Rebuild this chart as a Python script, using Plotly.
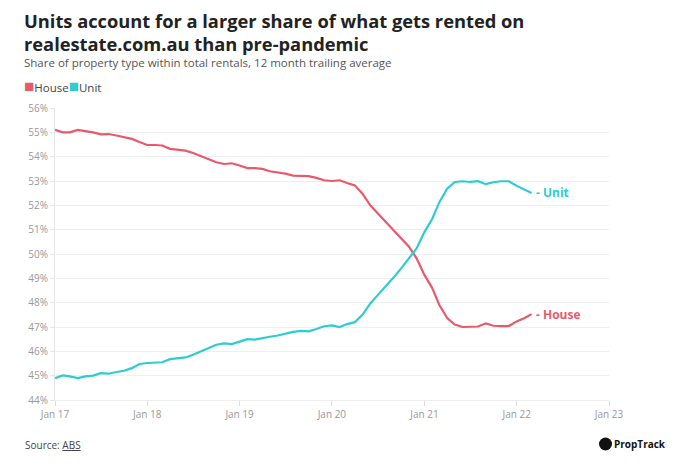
import plotly.graph_objects as go
import pandas as pd

months = pd.date_range("2017-01-01", periods=63, freq="MS")

house = [55.1, 55.0, 55.0, 55.1, 55.05, 55.0, 54.92, 54.93, 54.87, 54.8, 54.73, 54.6,
         54.48, 54.48, 54.46, 54.32, 54.3, 54.25, 54.15, 54.02, 53.9, 53.77, 53.7, 53.73,
         53.64, 53.53, 53.53, 53.5, 53.4, 53.36, 53.3, 53.22,
         53.2, 53.2, 53.13, 53.03,
         53.0, 53.03, 52.92, 52.82, 52.48, 52.0, 51.66, 51.32, 50.98, 50.64, 50.3, 49.82,
         49.14, 48.6, 47.9, 47.37, 47.1, 47.0, 47.02, 47.02, 47.15, 47.05, 47.04, 47.04,
         47.23, 47.37, 47.53]

unit = [44.9, 45.01, 44.97, 44.9, 44.97, 45.0, 45.1, 45.08, 45.15, 45.2, 45.31, 45.48,
        45.52, 45.52, 45.55, 45.68, 45.7, 45.75, 45.86, 46.0, 46.13, 46.27, 46.33, 46.3,
        46.4, 46.5, 46.48, 46.55, 46.6, 46.65, 46.72, 46.8,
        46.84, 46.82, 46.92, 47.03,
        47.07, 47.0, 47.12, 47.2, 47.5, 47.97, 48.32, 48.66, 49.03, 49.41, 49.82, 50.23,
        50.9, 51.45, 52.13, 52.68, 52.96, 52.99, 52.96, 52.99, 52.87, 52.95, 52.99, 52.99,
        52.8, 52.66, 52.51]

title_lines = ["Units account for a larger share of what gets rented on",
               "realestate.com.au than pre-pandemic"]
subtitle = "Share of property type within total rentals, 12 month trailing average"

colors = {"House": "#E9596C", "Unit": "#2ECCD2"}
FONT = "Open Sans"

# page offset (body margin) and plot geometry in figure px
OFF = 8
L, T, PW, PH = 47, 100, 554, 292
W, H = 671, 460


def px(sx):
    return (sx - OFF - L) / PW


def py(sy):
    return 1 - (sy - OFF - T) / PH


fig = go.Figure()
fig.add_trace(go.Scatter(x=months, y=house, mode="lines", name="House",
                         line=dict(color=colors["House"], width=2.2)))
fig.add_trace(go.Scatter(x=months, y=unit, mode="lines", name="Unit",
                         line=dict(color=colors["Unit"], width=2.2)))

# end labels
fig.add_annotation(x=months[-1], y=unit[-1], text="<b>- Unit</b>", showarrow=False,
                   xanchor="left", xshift=2, font=dict(family=FONT, size=12, color=colors["Unit"]))
fig.add_annotation(x=months[-1], y=house[-1], text="<b>- House</b>", showarrow=False,
                   xanchor="left", xshift=2, font=dict(family=FONT, size=12, color=colors["House"]))

# title lines, subtitle
for line, sy in zip(title_lines, [20, 43]):
    fig.add_annotation(xref="paper", yref="paper", x=px(23), y=py(sy),
                       xanchor="left", yanchor="middle", align="left", showarrow=False,
                       text=f"<b>{line}</b>", borderpad=0,
                       font=dict(family=FONT, size=18.3, color="#222222"))
fig.add_annotation(xref="paper", yref="paper", x=px(23), y=py(62),
                   xanchor="left", yanchor="middle", showarrow=False,
                   text=subtitle, borderpad=0,
                   font=dict(family=FONT, size=11.5, color="#555555"))
# legend
fig.add_annotation(xref="paper", yref="paper", x=px(22), y=py(85),
                   xanchor="left", yanchor="middle", showarrow=False,
                   text=(f"<span style='color:{colors['House']};font-size:17px'>■</span>House"
                         f"<span style='color:{colors['Unit']};font-size:17px'>■</span>Unit"),
                   font=dict(family=FONT, size=11.5, color="#444444"))
# source
fig.add_annotation(xref="paper", yref="paper", x=px(23), y=py(445),
                   xanchor="left", yanchor="middle", showarrow=False,
                   text="Source: <u>ABS</u>",
                   font=dict(family=FONT, size=10, color="#444444"))
# PropTrack logo
fig.add_annotation(xref="paper", yref="paper", x=px(612), y=py(444),
                   xanchor="left", yanchor="middle", showarrow=False,
                   text="<b>PropTrack</b>",
                   font=dict(family=FONT, size=10, color="#111111"))
fig.add_shape(type="circle", xref="paper", yref="paper",
              x0=px(599), x1=px(612), y0=py(450.5), y1=py(437.5),
              fillcolor="#111111", line=dict(width=0))

fig.update_layout(
    width=W, height=H,
    margin=dict(l=L, r=W - L - PW, t=T, b=H - T - PH),
    paper_bgcolor="white", plot_bgcolor="white",
    font=dict(family=FONT, color="#999999"),
    xaxis=dict(range=["2017-01-01", "2023-01-01"], dtick="M12", tick0="2017-01-01",
               tickformat="Jan %y", showgrid=False, ticks="outside", ticklen=5,
               tickcolor="#dddddd", showline=True, linecolor="#eeeeee",
               tickfont=dict(size=10, color="#999999"), zeroline=False),
    yaxis=dict(range=[44, 56], dtick=1, ticksuffix="%", showgrid=True,
               gridcolor="#eeeeee", gridwidth=1, showline=True, linecolor="#e6e6e6",
               ticks="outside", ticklen=4, tickcolor="#e6e6e6",
               tickfont=dict(size=10, color="#999999"), zeroline=False),
    showlegend=False,
)

fig.write_html("out.html")
